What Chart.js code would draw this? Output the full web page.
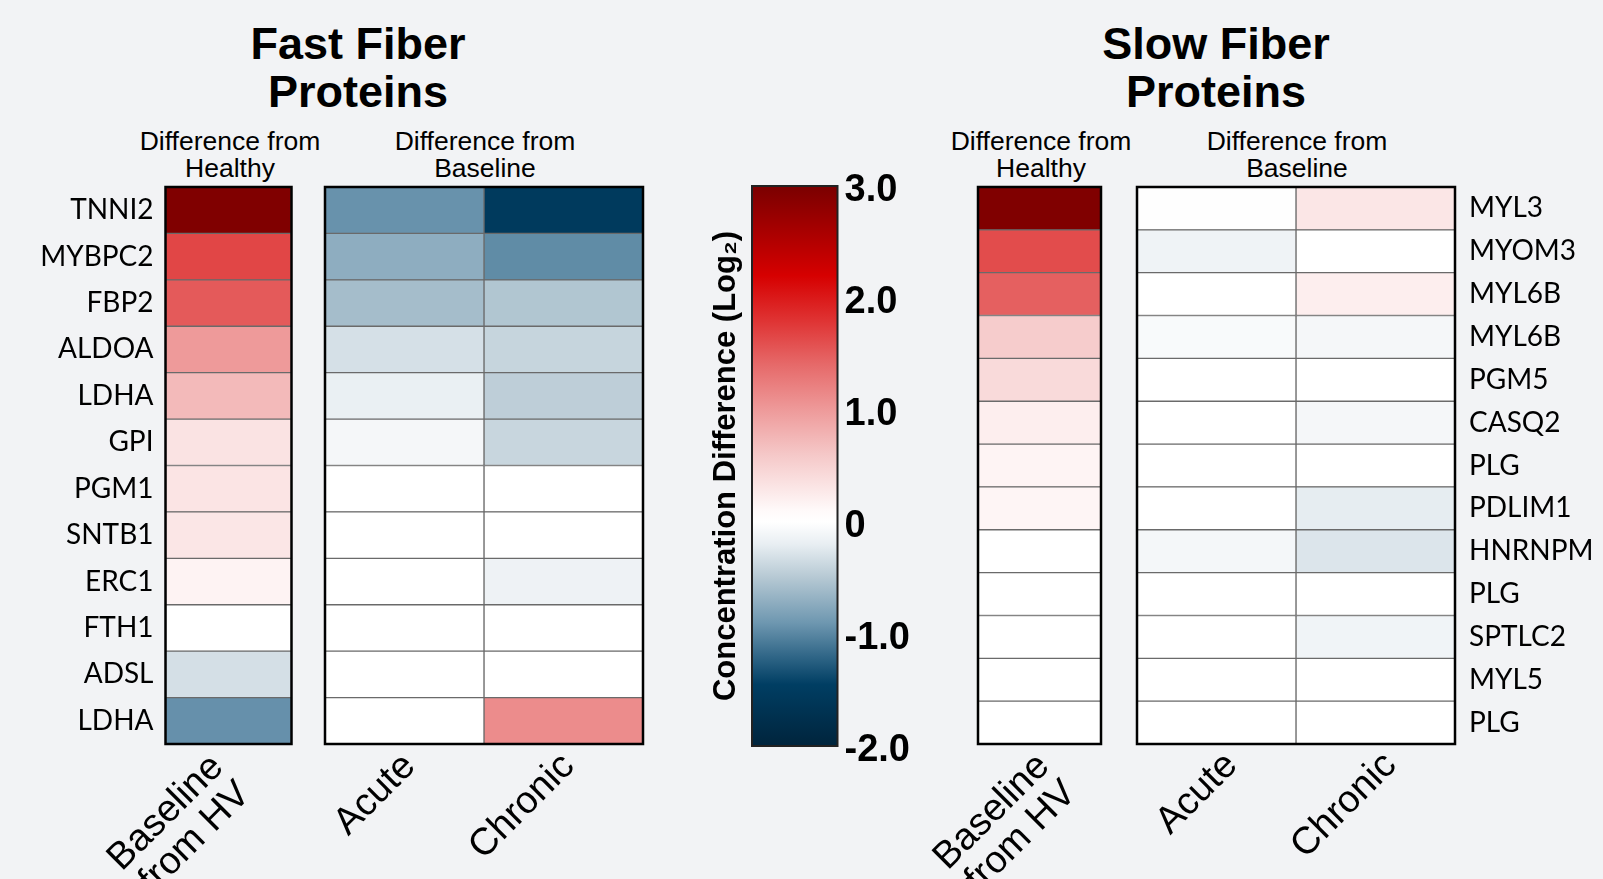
<!DOCTYPE html>
<html>
<head>
<meta charset="utf-8">
<script src="https://cdn.jsdelivr.net/npm/chart.js@4.4.1/dist/chart.umd.min.js"></script>
<style>
  html, body { margin: 0; padding: 0; background: #f2f3f5; width: 1603px; height: 879px; overflow: hidden; }
  body { position: relative; font-family: "Liberation Sans", Arial, sans-serif; color: #000; }
  .title { position: absolute; width: 400px; text-align: center; font-weight: bold; font-size: 45px; line-height: 48px; }
  .sub { position: absolute; width: 300px; text-align: center; font-size: 26.5px; line-height: 27px; }
  canvas { position: absolute; }
</style>
</head>
<body>
<div class="title" style="left:158px; top:20px;">Fast Fiber<br>Proteins</div>
<div class="title" style="left:1016px; top:20px;">Slow Fiber<br>Proteins</div>
<div class="sub" style="left:80px; top:128px;">Difference from<br>Healthy</div>
<div class="sub" style="left:335px; top:128px;">Difference from<br>Baseline</div>
<div class="sub" style="left:891px; top:128px;">Difference from<br>Healthy</div>
<div class="sub" style="left:1147px; top:128px;">Difference from<br>Baseline</div>

<canvas id="fastBase" width="300" height="729" style="left:0px; top:150px;"></canvas>
<canvas id="fastChange" width="450" height="729" style="left:200px; top:150px;"></canvas>
<canvas id="scaleBar" width="240" height="729" style="left:690px; top:150px;"></canvas>
<canvas id="slowBase" width="260" height="729" style="left:850px; top:150px;"></canvas>
<canvas id="slowChange" width="593" height="729" style="left:1010px; top:150px;"></canvas>

<script>
// ---- data (log2 concentration differences) ----
const fastProteins = ['TNNI2', 'MYBPC2', 'FBP2', 'ALDOA', 'LDHA', 'GPI', 'PGM1', 'SNTB1', 'ERC1', 'FTH1', 'ADSL', 'LDHA'];
const fastBaseline = [2.95, 1.66, 1.52, 1.0, 0.72, 0.33, 0.32, 0.3, 0.17, 0, -0.32, -0.94];
const fastAcute    = [-0.93, -0.72, -0.59, -0.31, -0.18, -0.09, 0, 0, 0, 0, 0, 0];
const fastChronic  = [-1.53, -0.97, -0.52, -0.4, -0.45, -0.39, 0, 0, -0.15, 0, 0, 1.12];

const slowProteins = ['MYL3', 'MYOM3', 'MYL6B', 'MYL6B', 'PGM5', 'CASQ2', 'PLG', 'PDLIM1', 'HNRNPM', 'PLG', 'SPTLC2', 'MYL5', 'PLG'];
const slowBaseline = [2.95, 1.62, 1.47, 0.56, 0.42, 0.22, 0.16, 0.15, 0, 0, 0, 0, 0];
const slowAcute    = [-0.01, -0.14, 0, -0.06, 0, 0, 0, 0, -0.1, 0, 0, 0, 0];
const slowChronic  = [0.3, 0, 0.22, -0.09, 0, -0.09, 0, -0.21, -0.27, 0, -0.13, 0, 0];

const baselineLabels = [['Baseline', 'from HV']];
const changeLabels = ['Acute', 'Chronic'];

// colour scale
const scaleMin = -2;
const scaleMax = 3;
const scaleTicks = [-2, -1, 0, 1, 2, 3];
const stopValues = [-2.0, -1.45, -1.2, -0.9, -0.5, -0.2, 0.0, 0.1, 0.3, 0.6, 1.0, 1.4, 1.8, 2.2, 2.7, 3.0];
const stopColors = ['#00243c', '#003e63', '#306687', '#6e97b0', '#b5c8d3', '#e8eef2', '#ffffff', '#fffafa',
                    '#fbe6e6', '#f5c8c8', '#ee9a9a', '#e66a6a', '#df3333', '#d60000', '#9c0000', '#7a0000'];

function hexToRgb(h) {
  const n = parseInt(h.slice(1), 16);
  return [(n >> 16) & 255, (n >> 8) & 255, n & 255];
}
function colorFor(v) {
  if (v <= stopValues[0]) return stopColors[0];
  for (let i = 1; i < stopValues.length; i++) {
    if (v <= stopValues[i]) {
      const t = (v - stopValues[i - 1]) / (stopValues[i] - stopValues[i - 1]);
      const a = hexToRgb(stopColors[i - 1]), b = hexToRgb(stopColors[i]);
      const c = a.map((x, k) => Math.round(x + (b[k] - x) * t));
      return 'rgb(' + c.join(',') + ')';
    }
  }
  return stopColors[stopColors.length - 1];
}

// outline around the plotting area
const framePlugin = {
  id: 'frame',
  afterDatasetsDraw(chart, args, opts) {
    const a = chart.chartArea, c = chart.ctx;
    c.save();
    c.strokeStyle = opts.color || '#000';
    c.lineWidth = opts.width || 2.5;
    c.strokeRect(a.left, a.top, a.right - a.left, a.bottom - a.top);
    c.restore();
  }
};

const labelFont = { family: 'Liberation Sans', size: 38, lineHeight: 1.0 };
const rowFont = { family: 'Lato', size: 28 };

function heatmap(id, rows, columns, colLabels, cfg) {
  const ncols = columns.length;
  const datasets = columns.map((vals, c) => ({
    data: vals.map(() => [c, c + 1]),
    backgroundColor: vals.map(colorFor),
    borderColor: '#6a6a6a',
    borderWidth: 1,
    borderSkipped: false,
    grouped: false,
    barPercentage: 1,
    categoryPercentage: 1,
    xAxisID: 'x',
    yAxisID: 'y'
  }));
  return new Chart(document.getElementById(id), {
    type: 'bar',
    data: { labels: rows, datasets },
    plugins: [framePlugin],
    options: {
      indexAxis: 'y',
      responsive: false,
      animation: false,
      layout: { padding: cfg.padding },
      plugins: { legend: { display: false }, tooltip: { enabled: false }, frame: { width: 2.5, color: '#000' } },
      scales: {
        x: { type: 'linear', min: 0, max: ncols, display: false },
        xl: {
          axis: 'x', type: 'category', labels: colLabels, position: 'bottom', offset: true,
          grid: { display: false, drawTicks: false }, border: { display: false },
          ticks: { minRotation: 45, maxRotation: 45, autoSkip: false, color: '#000', font: labelFont,
                   padding: cfg.labelPad, labelOffset: cfg.labelOffset },
          afterFit(s) { s.height = 135; }
        },
        y: {
          type: 'category', labels: rows, offset: true, position: cfg.rowSide || 'left',
          display: !!cfg.rowSide,
          grid: { display: false, drawTicks: false }, border: { display: false },
          ticks: { color: '#000', font: rowFont, padding: cfg.rowPad || 12, autoSkip: false },
          afterFit(s) { if (cfg.rowWidth) s.width = cfg.rowWidth; }
        }
      }
    }
  });
}

heatmap('fastBase', fastProteins, [fastBaseline], baselineLabels,
  { padding: { left: 0, right: 8.5, top: 37, bottom: 0 }, rowSide: 'left', rowWidth: 165.5, rowPad: 12,
    labelPad: 4, labelOffset: -11 });
heatmap('fastChange', fastProteins, [fastAcute, fastChronic], changeLabels,
  { padding: { left: 125, right: 7, top: 37, bottom: 0 }, labelPad: 3, labelOffset: 5 });
heatmap('slowBase', slowProteins, [slowBaseline], baselineLabels,
  { padding: { left: 128, right: 9, top: 37, bottom: 0 }, labelPad: 3, labelOffset: 4 });
heatmap('slowChange', slowProteins, [slowAcute, slowChronic], changeLabels,
  { padding: { left: 127, right: 0, top: 37, bottom: 0 }, rowSide: 'right', rowWidth: 148, rowPad: 14,
    labelPad: 2, labelOffset: 15 });

// colour key
new Chart(document.getElementById('scaleBar'), {
  type: 'bar',
  data: {
    labels: [''],
    datasets: [{
      data: [[scaleMin, scaleMax]],
      backgroundColor(ctx) {
        const chart = ctx.chart;
        if (!chart.chartArea) return '#fff';
        const y = chart.scales.y;
        const g = chart.ctx.createLinearGradient(0, y.getPixelForValue(scaleMin), 0, y.getPixelForValue(scaleMax));
        stopValues.forEach((v, i) => g.addColorStop((v - scaleMin) / (scaleMax - scaleMin), stopColors[i]));
        return g;
      },
      borderWidth: 0,
      barPercentage: 1,
      categoryPercentage: 1,
      yAxisID: 'y'
    }]
  },
  plugins: [framePlugin],
  options: {
    responsive: false,
    animation: false,
    layout: { padding: { left: 0, right: 0, top: 36, bottom: 133 } },
    plugins: { legend: { display: false }, tooltip: { enabled: false }, frame: { width: 2, color: '#222' } },
    scales: {
      x: { type: 'category', display: false },
      y: {
        type: 'linear', position: 'right', min: scaleMin, max: scaleMax,
        grid: { display: false, drawTicks: false }, border: { display: false },
        afterBuildTicks(s) { s.ticks = scaleTicks.map(v => ({ value: v })); },
        ticks: {
          color: '#000', padding: 7, labelOffset: 5,
          font: { family: 'Liberation Sans', size: 38, weight: 'bold' },
          callback: v => (v === 0 ? '0' : v.toFixed(1))
        },
        afterFit(s) { s.width = 92.5; }
      },
      yt: {
        axis: 'y', type: 'linear', position: 'left', min: scaleMin, max: scaleMax,
        grid: { display: false, drawTicks: false }, border: { display: false },
        ticks: { display: false },
        title: {
          display: true, text: 'Concentration Difference (Log\u2082)', color: '#000',
          font: { family: 'Liberation Sans', size: 31, weight: 'bold', lineHeight: 1.2 },
          padding: { top: 18, bottom: 0 }
        },
        afterFit(s) { s.width = 62; }
      }
    }
  }
});
</script>
</body>
</html>
